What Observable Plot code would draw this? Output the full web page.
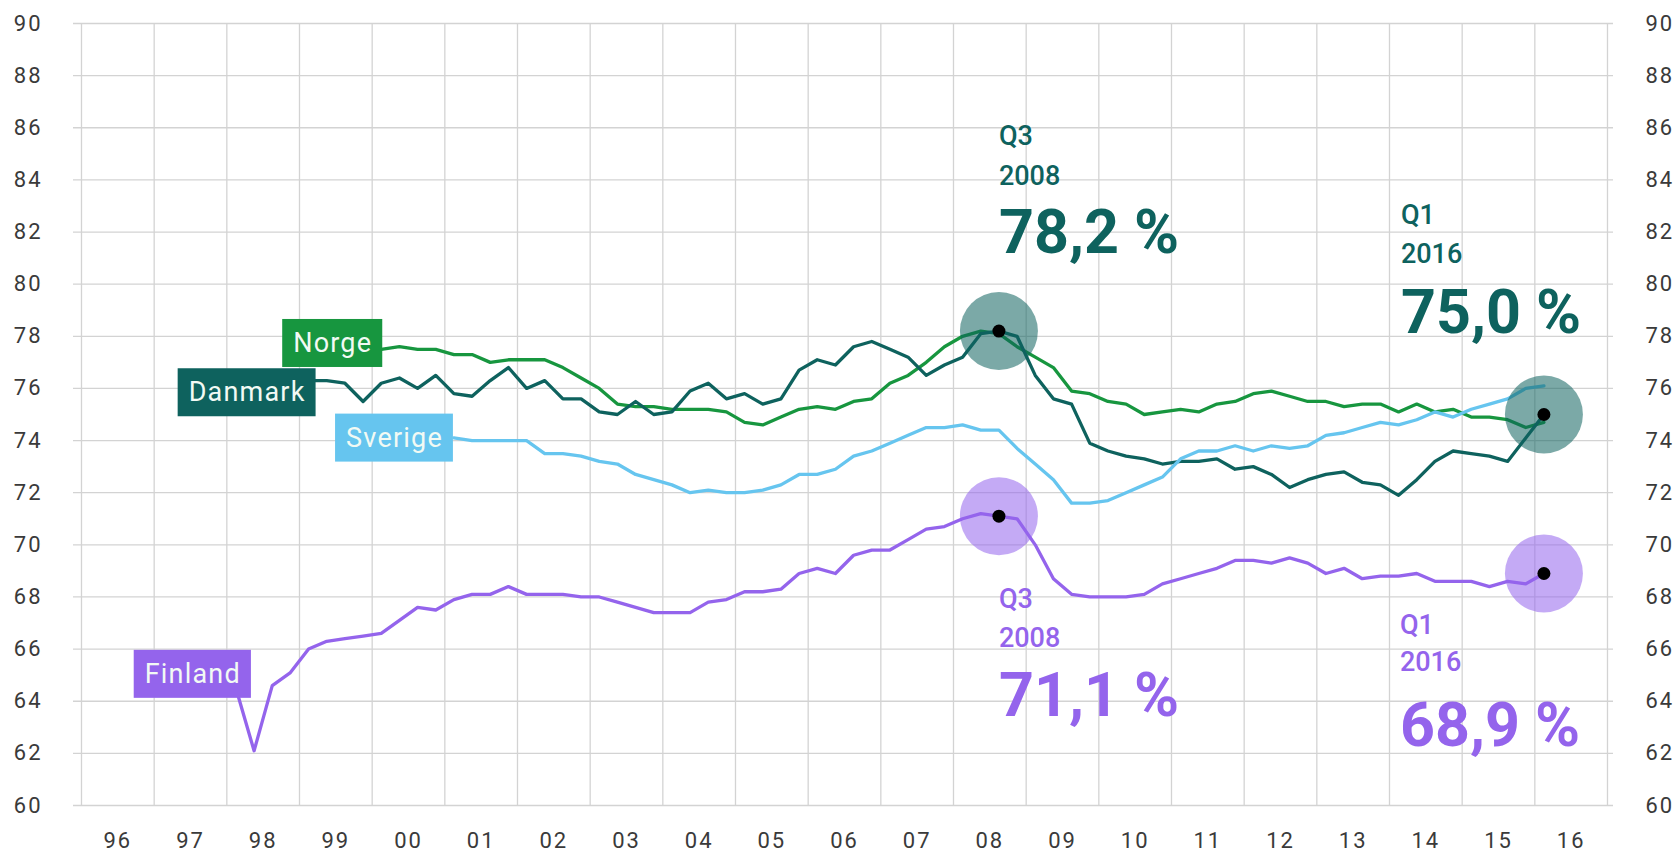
<!DOCTYPE html>
<html>
<head>
<meta charset="utf-8">
<script src="https://cdn.jsdelivr.net/npm/d3@7"></script>
<script src="https://cdn.jsdelivr.net/npm/@observablehq/plot@0.6"></script>
<style>
html,body{margin:0;padding:0;background:#fff;overflow:hidden}
#chart svg{display:block}
#chart svg g[aria-label$="tick label"] text{letter-spacing:2px}
</style>
</head>
<body>
<div id="chart"></div>
<script>
// ---- Data ----
const countries = ["Norge", "Danmark", "Sverige", "Finland"];
const startQuarters = ["2000 Q1", "1999 Q1", "2001 Q1", "1998 Q1"];
const countryColors = ["#17963f", "#0e625e", "#66c5ef", "#9464ec"];

const norge = [
  77.5, 77.6, 77.5, 77.5,
  77.3, 77.3, 77.0, 77.1,
  77.1, 77.1, 76.8, 76.4,
  76.0, 75.4, 75.3, 75.3,
  75.2, 75.2, 75.2, 75.1,
  74.7, 74.6, 74.9, 75.2,
  75.3, 75.2, 75.5, 75.6,
  76.2, 76.5, 77.0, 77.6,
  78.0, 78.2, 78.1, 77.6,
  77.2, 76.8, 75.9, 75.8,
  75.5, 75.4, 75.0, 75.1,
  75.2, 75.1, 75.4, 75.5,
  75.8, 75.9, 75.7, 75.5,
  75.5, 75.3, 75.4, 75.4,
  75.1, 75.4, 75.1, 75.2,
  74.9, 74.9, 74.8, 74.5,
  74.7
];
const danmark = [
  76.3, 76.3, 76.2, 75.5,
  76.2, 76.4, 76.0, 76.5,
  75.8, 75.7, 76.3, 76.8,
  76.0, 76.3, 75.6, 75.6,
  75.1, 75.0, 75.5, 75.0,
  75.1, 75.9, 76.2, 75.6,
  75.8, 75.4, 75.6, 76.7,
  77.1, 76.9, 77.6, 77.8,
  77.5, 77.2, 76.5, 76.9,
  77.2, 78.1, 78.2, 78.0,
  76.5, 75.6, 75.4, 73.9,
  73.6, 73.4, 73.3, 73.1,
  73.2, 73.2, 73.3, 72.9,
  73.0, 72.7, 72.2, 72.5,
  72.7, 72.8, 72.4, 72.3,
  71.9, 72.5, 73.2, 73.6,
  73.5, 73.4, 73.2, 74.1,
  75.0
];
const sverige = [
  74.1, 74.0, 74.0, 74.0,
  74.0, 73.5, 73.5, 73.4,
  73.2, 73.1, 72.7, 72.5,
  72.3, 72.0, 72.1, 72.0,
  72.0, 72.1, 72.3, 72.7,
  72.7, 72.9, 73.4, 73.6,
  73.9, 74.2, 74.5, 74.5,
  74.6, 74.4, 74.4, 73.7,
  73.1, 72.5, 71.6, 71.6,
  71.7, 72.0, 72.3, 72.6,
  73.3, 73.6, 73.6, 73.8,
  73.6, 73.8, 73.7, 73.8,
  74.2, 74.3, 74.5, 74.7,
  74.6, 74.8, 75.1, 74.9,
  75.2, 75.4, 75.6, 76.0,
  76.1
];
const finland = [
  64.5, 62.1, 64.6, 65.1,
  66.0, 66.3, 66.4, 66.5,
  66.6, 67.1, 67.6, 67.5,
  67.9, 68.1, 68.1, 68.4,
  68.1, 68.1, 68.1, 68.0,
  68.0, 67.8, 67.6, 67.4,
  67.4, 67.4, 67.8, 67.9,
  68.2, 68.2, 68.3, 68.9,
  69.1, 68.9, 69.6, 69.8,
  69.8, 70.2, 70.6, 70.7,
  71.0, 71.2, 71.1, 71.0,
  70.0, 68.7, 68.1, 68.0,
  68.0, 68.0, 68.1, 68.5,
  68.7, 68.9, 69.1, 69.4,
  69.4, 69.3, 69.5, 69.3,
  68.9, 69.1, 68.7, 68.8,
  68.8, 68.9, 68.6, 68.6,
  68.6, 68.4, 68.6, 68.5,
  68.9
];

const yTicks = [60, 62, 64, 66, 68, 70, 72, 74, 76, 78, 80, 82, 84, 86, 88, 90];
const xYears = [1996, 1997, 1998, 1999, 2000, 2001, 2002, 2003, 2004, 2005, 2006, 2007, 2008, 2009, 2010, 2011, 2012, 2013, 2014, 2015, 2016];
const xTickLabels = ["96","97","98","99","00","01","02","03","04","05","06","07","08","09","10","11","12","13","14","15","16"];

// Highlights
const annotCountries = ["Danmark", "Danmark", "Finland", "Finland"];
const annotQuarters = ["2008 Q3", "2016 Q1", "2008 Q3", "2016 Q1"];
const annotValues = [78.2, 75.0, 71.1, 68.9];
const annotText = ["78,2 %", "75,0 %", "71,1 %", "68,9 %"];

// ---- Layout (styles / offsets only) ----
const labelDx = {Norge: -9, Danmark: -3, Sverige: -11, Finland: 5};
const labelDy = {Norge: -6, Danmark: 12, Sverige: 0, Finland: -14};
const annotLayout = [
  {dx: 0, dys: [-186, -146, -78]},
  {dx: -143, dys: [-191, -152, -82]},
  {dx: 0, dys: [92, 131, 200]},
  {dx: -144, dys: [60, 97, 172]}
];
const labelTextFill = "#f2faf4";

// ---- Build tables ----
const qpos = s => { const [y, q] = s.split(" Q"); return +y + (+q - 0.5) / 4; };
const seriesValues = {Norge: norge, Danmark: danmark, Sverige: sverige, Finland: finland};
const rows = countries.flatMap((c, i) =>
  seriesValues[c].map((v, k) => ({country: c, t: qpos(startQuarters[i]) + k / 4, value: v})));
const labelRows = countries.map((c, i) => ({country: c, t: qpos(startQuarters[i]), value: seriesValues[c][0]}));
const annots = annotCountries.map((c, i) => ({
  country: c, t: qpos(annotQuarters[i]), value: annotValues[i],
  q: annotQuarters[i].split(" ")[1], year: annotQuarters[i].split(" ")[0], big: annotText[i]
}));
const yearEdges = [...xYears, xYears[xYears.length - 1] + 1];
const xMid = xYears.map(y => y + 0.5);

const gridColor = "#d3d3d3";
const font = "Roboto, 'DejaVu Sans', sans-serif";

const marks = [
  Plot.ruleY(yTicks, {stroke: gridColor, strokeWidth: 1.3}),
  Plot.ruleX(yearEdges, {y1: 60, y2: 90, stroke: gridColor, strokeWidth: 1.3}),
  Plot.axisY({anchor: "left", ticks: yTicks, tickSize: 0, tickPadding: 31, label: null, fill: "#3a3a3a"}),
  Plot.axisY({anchor: "right", ticks: yTicks, tickSize: 0, tickPadding: 32, label: null, fill: "#3a3a3a"}),
  Plot.axisX({ticks: xMid, tickSize: 0, tickPadding: 27, label: null, fill: "#3a3a3a",
    tickFormat: (d) => xTickLabels[xMid.indexOf(d)]}),
  Plot.line(rows, {x: "t", y: "value", z: "country", stroke: "country", strokeWidth: 3.3,
    strokeLinejoin: "round", strokeLinecap: "round"}),
  Plot.dot(annots, {x: "t", y: "value", r: 39, fill: "country", fillOpacity: 0.55, stroke: "none"}),
  Plot.dot(annots, {x: "t", y: "value", r: 6.5, fill: "black", stroke: "none"})
];

countries.forEach(c => {
  marks.push(Plot.text(labelRows.filter(d => d.country === c), {
    x: "t", y: "value", text: "country", textAnchor: "end", lineAnchor: "middle",
    dx: labelDx[c], dy: labelDy[c], fill: labelTextFill, fontSize: 27
  }));
});

annots.forEach((a, i) => {
  const L = annotLayout[i];
  const common = {x: "t", y: "value", fill: "country", textAnchor: "start", lineAnchor: "bottom", dx: L.dx};
  marks.push(Plot.text([a], {...common, text: "q", dy: L.dys[0], fontSize: 27, fontWeight: 500}));
  marks.push(Plot.text([a], {...common, text: "year", dy: L.dys[1], fontSize: 27, fontWeight: 500}));
  marks.push(Plot.text([a], {...common, text: "big", dy: L.dys[2], fontSize: 61, fontWeight: 700}));
});

const chart = Plot.plot({
  width: 1679, height: 853,
  marginTop: 23, marginBottom: 48, marginLeft: 73, marginRight: 66,
  x: {domain: [1996, 2017], insetLeft: 8, insetRight: 6},
  y: {domain: [60, 90]},
  color: {domain: countries, range: countryColors},
  style: {fontFamily: font, fontSize: "22px", background: "#fff", color: "#3a3a3a"},
  marks
});
document.getElementById("chart").append(chart);

// label boxes behind the series names
const colorScale = chart.scale("color");
const NS = "http://www.w3.org/2000/svg";
chart.querySelectorAll("text").forEach(t => {
  const name = t.textContent;
  if (!countries.includes(name)) return;
  t.style.letterSpacing = "1.2px";
  const b = t.getBBox();
  const cy = b.y + b.height / 2;
  const r = document.createElementNS(NS, "rect");
  r.setAttribute("x", b.x - 11);
  r.setAttribute("width", b.width + 21);
  r.setAttribute("y", cy - 24);
  r.setAttribute("height", 48);
  r.setAttribute("fill", colorScale.apply(name));
  const tr = t.getAttribute("transform");
  if (tr) r.setAttribute("transform", tr);
  t.parentNode.insertBefore(r, t);
});
</script>
</body>
</html>
